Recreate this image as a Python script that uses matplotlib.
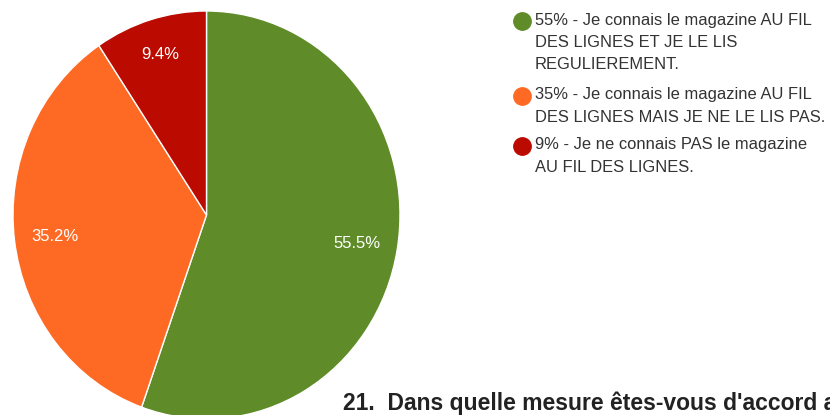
import numpy as np
import matplotlib
matplotlib.use("Agg")
import matplotlib.pyplot as plt
from matplotlib.lines import Line2D

# ---- data ----
shares = [55.5, 35.2, 9.4]
pct_labels = ["55.5%", "35.2%", "9.4%"]
legend_labels = [
    "55% - Je connais le magazine AU FIL\nDES LIGNES ET JE LE LIS\nREGULIEREMENT.",
    "35% - Je connais le magazine AU FIL\nDES LIGNES MAIS JE NE LE LIS PAS.",
    "9% - Je ne connais PAS le magazine\nAU FIL DES LIGNES.",
]
colors = ["#5F8B28", "#FE6A24", "#BB0A00"]
title_text = "21.  Dans quelle mesure êtes-vous d'accord a"

plt.rcParams['font.family'] = ['Liberation Sans', 'DejaVu Sans']

W, H = 830, 415
fig = plt.figure(figsize=(W / 100, H / 100), dpi=100)

# pie axes (pixel geometry: centre x 206.5, rx 193.5; centre y 215 from top, ry 204)
cx, cy, rx, ry = 206.5, 215.0, 193.5, 204.0
lim = 1.05
left = (cx - rx * lim) / W
width = 2 * rx * lim / W
bottom = (H - (cy + ry * lim)) / H
height = 2 * ry * lim / H
ax = fig.add_axes([left, bottom, width, height])
wedges, _ = ax.pie(shares, colors=colors, startangle=90, counterclock=False,
                   wedgeprops=dict(edgecolor="white", linewidth=1.0))
ax.set_aspect('auto')
ax.set_xlim(-lim, lim)
ax.set_ylim(-lim, lim)
ax.axis('off')

# percentage labels at mid-angles
label_r = [0.79, 0.79, 0.83]
total = sum(shares)
ang = 90.0
for s, lab, r in zip(shares, pct_labels, label_r):
    span = 360.0 * s / total
    mid = np.deg2rad(ang - span / 2)
    ax.text(r * np.cos(mid), r * np.sin(mid), lab, color="white",
            fontsize=12, ha="center", va="center_baseline")
    ang -= span

# legend (manual)
entry_y = [21, 96, 146]
marker_x = 521.5
text_x = 535
for y, lab, c in zip(entry_y, legend_labels, colors):
    fig.add_artist(Line2D([marker_x / W], [1 - y / H], marker="o", markersize=12.5,
                          color=c, markeredgecolor=c, transform=fig.transFigure))
    fig.text(text_x / W, 1 - (y - 8.5) / H, lab, fontsize=11.9, color="#333333",
             ha="left", va="top", linespacing=1.62)

# cut-off heading at bottom
fig.text(343 / W, 1 - 410 / H, title_text, fontsize=16.5, fontweight="bold",
         color="#222222", ha="left", va="baseline")

fig.savefig("out.png", dpi=100)
